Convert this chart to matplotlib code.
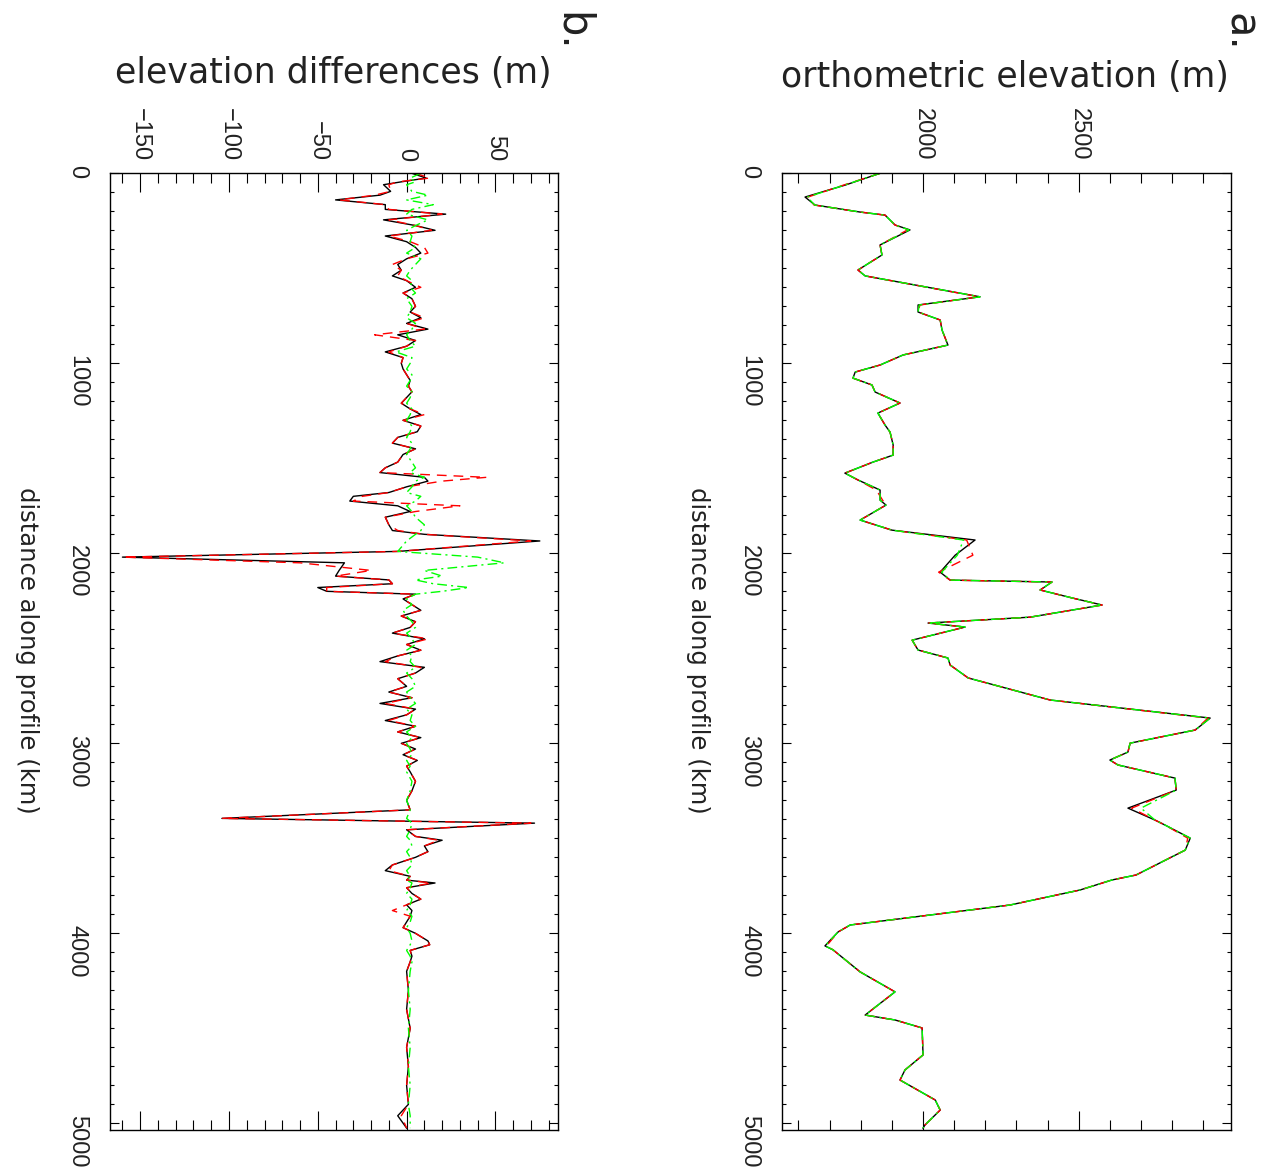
import numpy as np
import matplotlib.pyplot as plt
from matplotlib.ticker import MultipleLocator

W, H = 1278, 1167

# panel a: orthometric elevation along the profile
dist_a = [0, 62, 125, 167, 204, 220, 272, 298, 377, 430, 509, 540, 650, 693, 730,
          772, 825, 904, 956, 1009, 1046, 1078, 1114, 1151, 1209, 1262, 1325, 1362,
          1430, 1483, 1520, 1578, 1614, 1667, 1720, 1746, 1825, 1878, 1930, 2010,
          2099, 2141, 2151, 2193, 2235, 2272, 2336, 2367, 2388, 2457, 2509, 2551,
          2588, 2656, 2772, 2867, 2930, 2999, 3046, 3088, 3114, 3183, 3246, 3341,
          3404, 3430, 3499, 3562, 3693, 3719, 3772, 3851, 3956, 3993, 4066, 4087,
          4203, 4308, 4430, 4456, 4498, 4640, 4719, 4772, 4877, 4930, 5009, 5025]
elev_black = [1862, 1750, 1621, 1653, 1798, 1878, 1910, 1958, 1862, 1868, 1791, 1814,
              2183, 1984, 1984, 2055, 2061, 2080, 1936, 1862, 1782, 1775, 1836, 1846,
              1926, 1855, 1878, 1894, 1904, 1904, 1839, 1749, 1791, 1862, 1862, 1881,
              1798, 1900, 2167, 2103, 2055, 2087, 2414, 2376, 2479, 2575, 2344, 2016,
              2135, 1965, 1984, 2080, 2087, 2145, 2408, 2922, 2874, 2665, 2658, 2600,
              2626, 2809, 2813, 2658, 2745, 2777, 2858, 2842, 2684, 2607, 2504, 2279,
              1766, 1727, 1685, 1711, 1798, 1910, 1814, 1910, 1997, 2000, 1942, 1926,
              2039, 2055, 2006, 2000]
elev_red = [1862, 1745, 1630, 1650, 1798, 1878, 1910, 1950, 1862, 1868, 1791, 1814,
            2180, 1990, 1984, 2055, 2061, 2080, 1936, 1862, 1782, 1775, 1836, 1846,
            1926, 1855, 1878, 1894, 1904, 1904, 1839, 1749, 1791, 1850, 1870, 1881,
            1798, 1900, 2140, 2160, 2050, 2087, 2414, 2376, 2479, 2575, 2344, 2016,
            2135, 1965, 1984, 2080, 2087, 2145, 2408, 2915, 2874, 2665, 2658, 2600,
            2626, 2809, 2813, 2670, 2745, 2777, 2850, 2842, 2684, 2607, 2504, 2279,
            1766, 1727, 1690, 1711, 1798, 1910, 1814, 1910, 1997, 2000, 1942, 1926,
            2039, 2055, 2006, 2000]
elev_green = [1862, 1748, 1628, 1652, 1798, 1878, 1910, 1955, 1862, 1868, 1791, 1814,
              2183, 1988, 1984, 2055, 2061, 2080, 1936, 1862, 1782, 1775, 1836, 1846,
              1926, 1855, 1878, 1894, 1904, 1904, 1839, 1749, 1791, 1862, 1862, 1881,
              1798, 1900, 2130, 2110, 2060, 2087, 2414, 2376, 2479, 2575, 2344, 2016,
              2135, 1965, 1984, 2080, 2087, 2145, 2408, 2922, 2874, 2665, 2658, 2600,
              2626, 2809, 2813, 2700, 2745, 2777, 2858, 2842, 2684, 2607, 2504, 2279,
              1766, 1727, 1685, 1711, 1798, 1910, 1814, 1910, 1997, 2000, 1942, 1926,
              2039, 2055, 2006, 2000]

# panel b: elevation differences along the profile
dist_b = [0, 25, 45, 60, 95, 115, 140, 165, 190, 215, 245, 275, 300, 330, 360, 390,
          420, 450, 480, 510, 540, 565, 600, 630, 660, 700, 730, 760, 790, 820, 850,
          880, 910, 940, 970, 1000, 1030, 1060, 1090, 1120, 1150, 1180, 1210, 1240,
          1270, 1300, 1330, 1360, 1390, 1420, 1450, 1480, 1520, 1550, 1575, 1600,
          1620, 1650, 1680, 1700, 1725, 1750, 1780, 1810, 1850, 1880, 1900, 1935,
          1990, 2020, 2050, 2090, 2120, 2140, 2160, 2180, 2200, 2215, 2240, 2270,
          2300, 2330, 2360, 2390, 2420, 2450, 2480, 2510, 2540, 2570, 2600, 2630,
          2660, 2700, 2730, 2760, 2790, 2820, 2850, 2880, 2910, 2940, 2970, 3000,
          3030, 3060, 3090, 3120, 3150, 3200, 3250, 3300, 3350, 3395, 3420, 3455,
          3490, 3510, 3540, 3570, 3600, 3640, 3670, 3700, 3720, 3735, 3760, 3790,
          3820, 3850, 3880, 3910, 3940, 3970, 4000, 4040, 4060, 4090, 4120, 4150,
          4200, 4300, 4400, 4500, 4600, 4700, 4800, 4900, 4960, 5025]
diff_black = [3, 11, -3, -13, -9, -15, -40, -12, -12, 22, -13, 5, 16, -12, 0, 5,
              8, 0, -5, -3, -8, 0, 5, -2, 3, 5, 2, 8, 0, 12, -5,
              5, 0, -12, -2, -3, -2, 0, 2, 1, 3, 0, -3, 2,
              8, -2, 8, 6, -5, -8, 5, -2, -5, -12, -15, 10,
              12, 0, -10, -30, -32, -5, 2, -12, -10, -8, 10, 75,
              -5, -160, -35, -38, -40, -10, -8, -50, -45, 5, -2, 3,
              8, -3, 5, 2, -8, 10, 0, 8, -5, -15, 10, 5,
              -5, 0, -10, 3, -15, 5, 0, -12, 5, -5, 8, -3,
              5, -2, 6, 0, 2, 5, 3, 0, 2, -104, 72, 0,
              5, 20, 10, 12, 5, -8, -12, 2, 0, 16, 0, 3,
              8, 0, 3, 2, 0, -2, 5, 12, 13, 2, 3, 2,
              0, 1, 0, 2, 0, 1, 0, 1, -5, 0]
diff_red = [5, 13, -5, -10, -9, -18, -38, -12, -10, 20, -10, 5, 14, -10, 2, 10,
            12, 0, -8, -3, -5, 0, 8, -2, 3, 5, 2, 10, 0, 10, -18,
            5, 0, -10, -2, -3, -2, 0, 2, 1, 3, 0, -3, 2,
            10, -2, 8, 6, -5, -8, 5, -2, -5, -12, -15, 45,
            20, 0, -10, -25, -30, 30, 5, -12, -10, -5, 10, 70,
            -5, -160, -60, -20, -40, -10, -8, -45, -45, 5, -2, 3,
            8, -3, 5, 2, -8, 12, 0, 8, -5, -12, 8, 5,
            -5, 0, -10, 3, -12, 5, 0, -10, 5, -5, 8, -3,
            5, -2, 6, 0, 2, 5, 3, 0, 2, -104, 70, 0,
            5, 18, 10, 12, 5, -8, -10, 2, 0, 14, 0, 3,
            8, 0, -8, 2, 0, -2, 5, 12, 13, 2, 3, 2,
            0, 1, 0, 2, 0, 1, 0, 1, -3, 0]
diff_green = [8, 2, 5, 0, 3, 12, 0, 15, 3, 0, 12, 5, 0, 3, 2, 5,
              0, 8, 5, 2, 0, 3, 2, 5, 0, 3, 2, 0, 5, 3, 0,
              2, 5, -6, 3, 2, 0, 3, 2, 0, 3, 2, 0, 3,
              2, 0, 3, 2, 0, 3, 2, 0, 3, 5, 2, 10,
              5, 3, 0, 8, 5, 0, 3, 5, 10, 8, 5, 0,
              -5, 40, 55, 10, 20, 5, 15, 35, 20, 5, 0, 3,
              -2, 0, 3, 5, 0, 3, 5, 0, 3, 2, 5, 0,
              3, 5, 0, 2, 5, 0, 3, 2, 5, 0, 3, 0,
              2, 3, 0, 2, 0, 3, 2, 0, 2, 0, 3, 2,
              0, 2, 3, 0, 2, 3, 0, 2, 0, 3, 2, 0,
              3, 2, 0, 3, 2, 0, 2, 3, 2, 0, 2, 3,
              2, 1, 2, 1, 2, 1, 2, 1, 2, 2]

panels = [
    dict(px=(782.3, 1230.7), xlim=(1548, 2988), major=500, minor=100,
         black=elev_black, red=elev_red, green=elev_green, dist=dist_a,
         title='orthometric elevation (m)', title_xy=(1005, 77),
         tag='a.', tag_xy=(1240, 32), xlab_x=698),
    dict(px=(110.0, 558.3), xlim=(-167, 85.4), major=50, minor=10,
         black=diff_black, red=diff_red, green=diff_green, dist=dist_b,
         title='elevation differences (m)', title_xy=(333, 73),
         tag='b.', tag_xy=(572, 32), xlab_x=27),
]

ticks_font = ['Liberation Sans', 'DejaVu Sans']

fig = plt.figure(figsize=(W / 100, H / 100), dpi=100)
top, bottom = 173.3, 1130.0

for p in panels:
    l, r = p['px']
    ax = fig.add_axes([l / W, 1 - bottom / H, (r - l) / W, (bottom - top) / H])
    ax.plot(p['black'], p['dist'], color='black', lw=1.0)
    ax.plot(p['red'], p['dist'], color='red', lw=1.0, ls=(0, (7, 5)))
    ax.plot(p['green'], p['dist'], color='#00ff00', lw=1.0, ls=(0, (7, 3, 1.5, 3)))
    ax.set_xlim(*p['xlim'])
    ax.set_ylim(5035, 0)

    ax.xaxis.set_major_locator(MultipleLocator(p['major']))
    ax.xaxis.set_minor_locator(MultipleLocator(p['minor']))
    ax.yaxis.set_major_locator(MultipleLocator(1000))
    ax.yaxis.set_minor_locator(MultipleLocator(100))
    ax.xaxis.tick_top()
    ax.tick_params(which='both', direction='in', top=True, bottom=True,
                   left=True, right=True, width=0.8, color='black')
    ax.tick_params(axis='x', which='major', length=13.5, labelrotation=-90, pad=9)
    ax.tick_params(axis='x', which='minor', length=7)
    ax.tick_params(axis='y', which='major', length=6.5, labelrotation=-90, pad=16)
    ax.tick_params(axis='y', which='minor', length=3)
    for lab in ax.get_xticklabels() + ax.get_yticklabels():
        lab.set_family(ticks_font)
        lab.set_fontsize(17)
        lab.set_color('#222222')
    for s in ax.spines.values():
        s.set_linewidth(1.0)

    fig.text(p['title_xy'][0] / W, 1 - p['title_xy'][1] / H, p['title'],
             ha='center', va='center', fontsize=25, color='#222222')
    fig.text(p['tag_xy'][0] / W, 1 - p['tag_xy'][1] / H, p['tag'],
             ha='center', va='center', fontsize=30, rotation=-90, color='#222222')
    fig.text(p['xlab_x'] / W, 1 - 650 / H, 'distance along profile (km)',
             ha='center', va='center', fontsize=17.5, rotation=-90,
             color='#222222')

fig.savefig('out.png', dpi=100)
